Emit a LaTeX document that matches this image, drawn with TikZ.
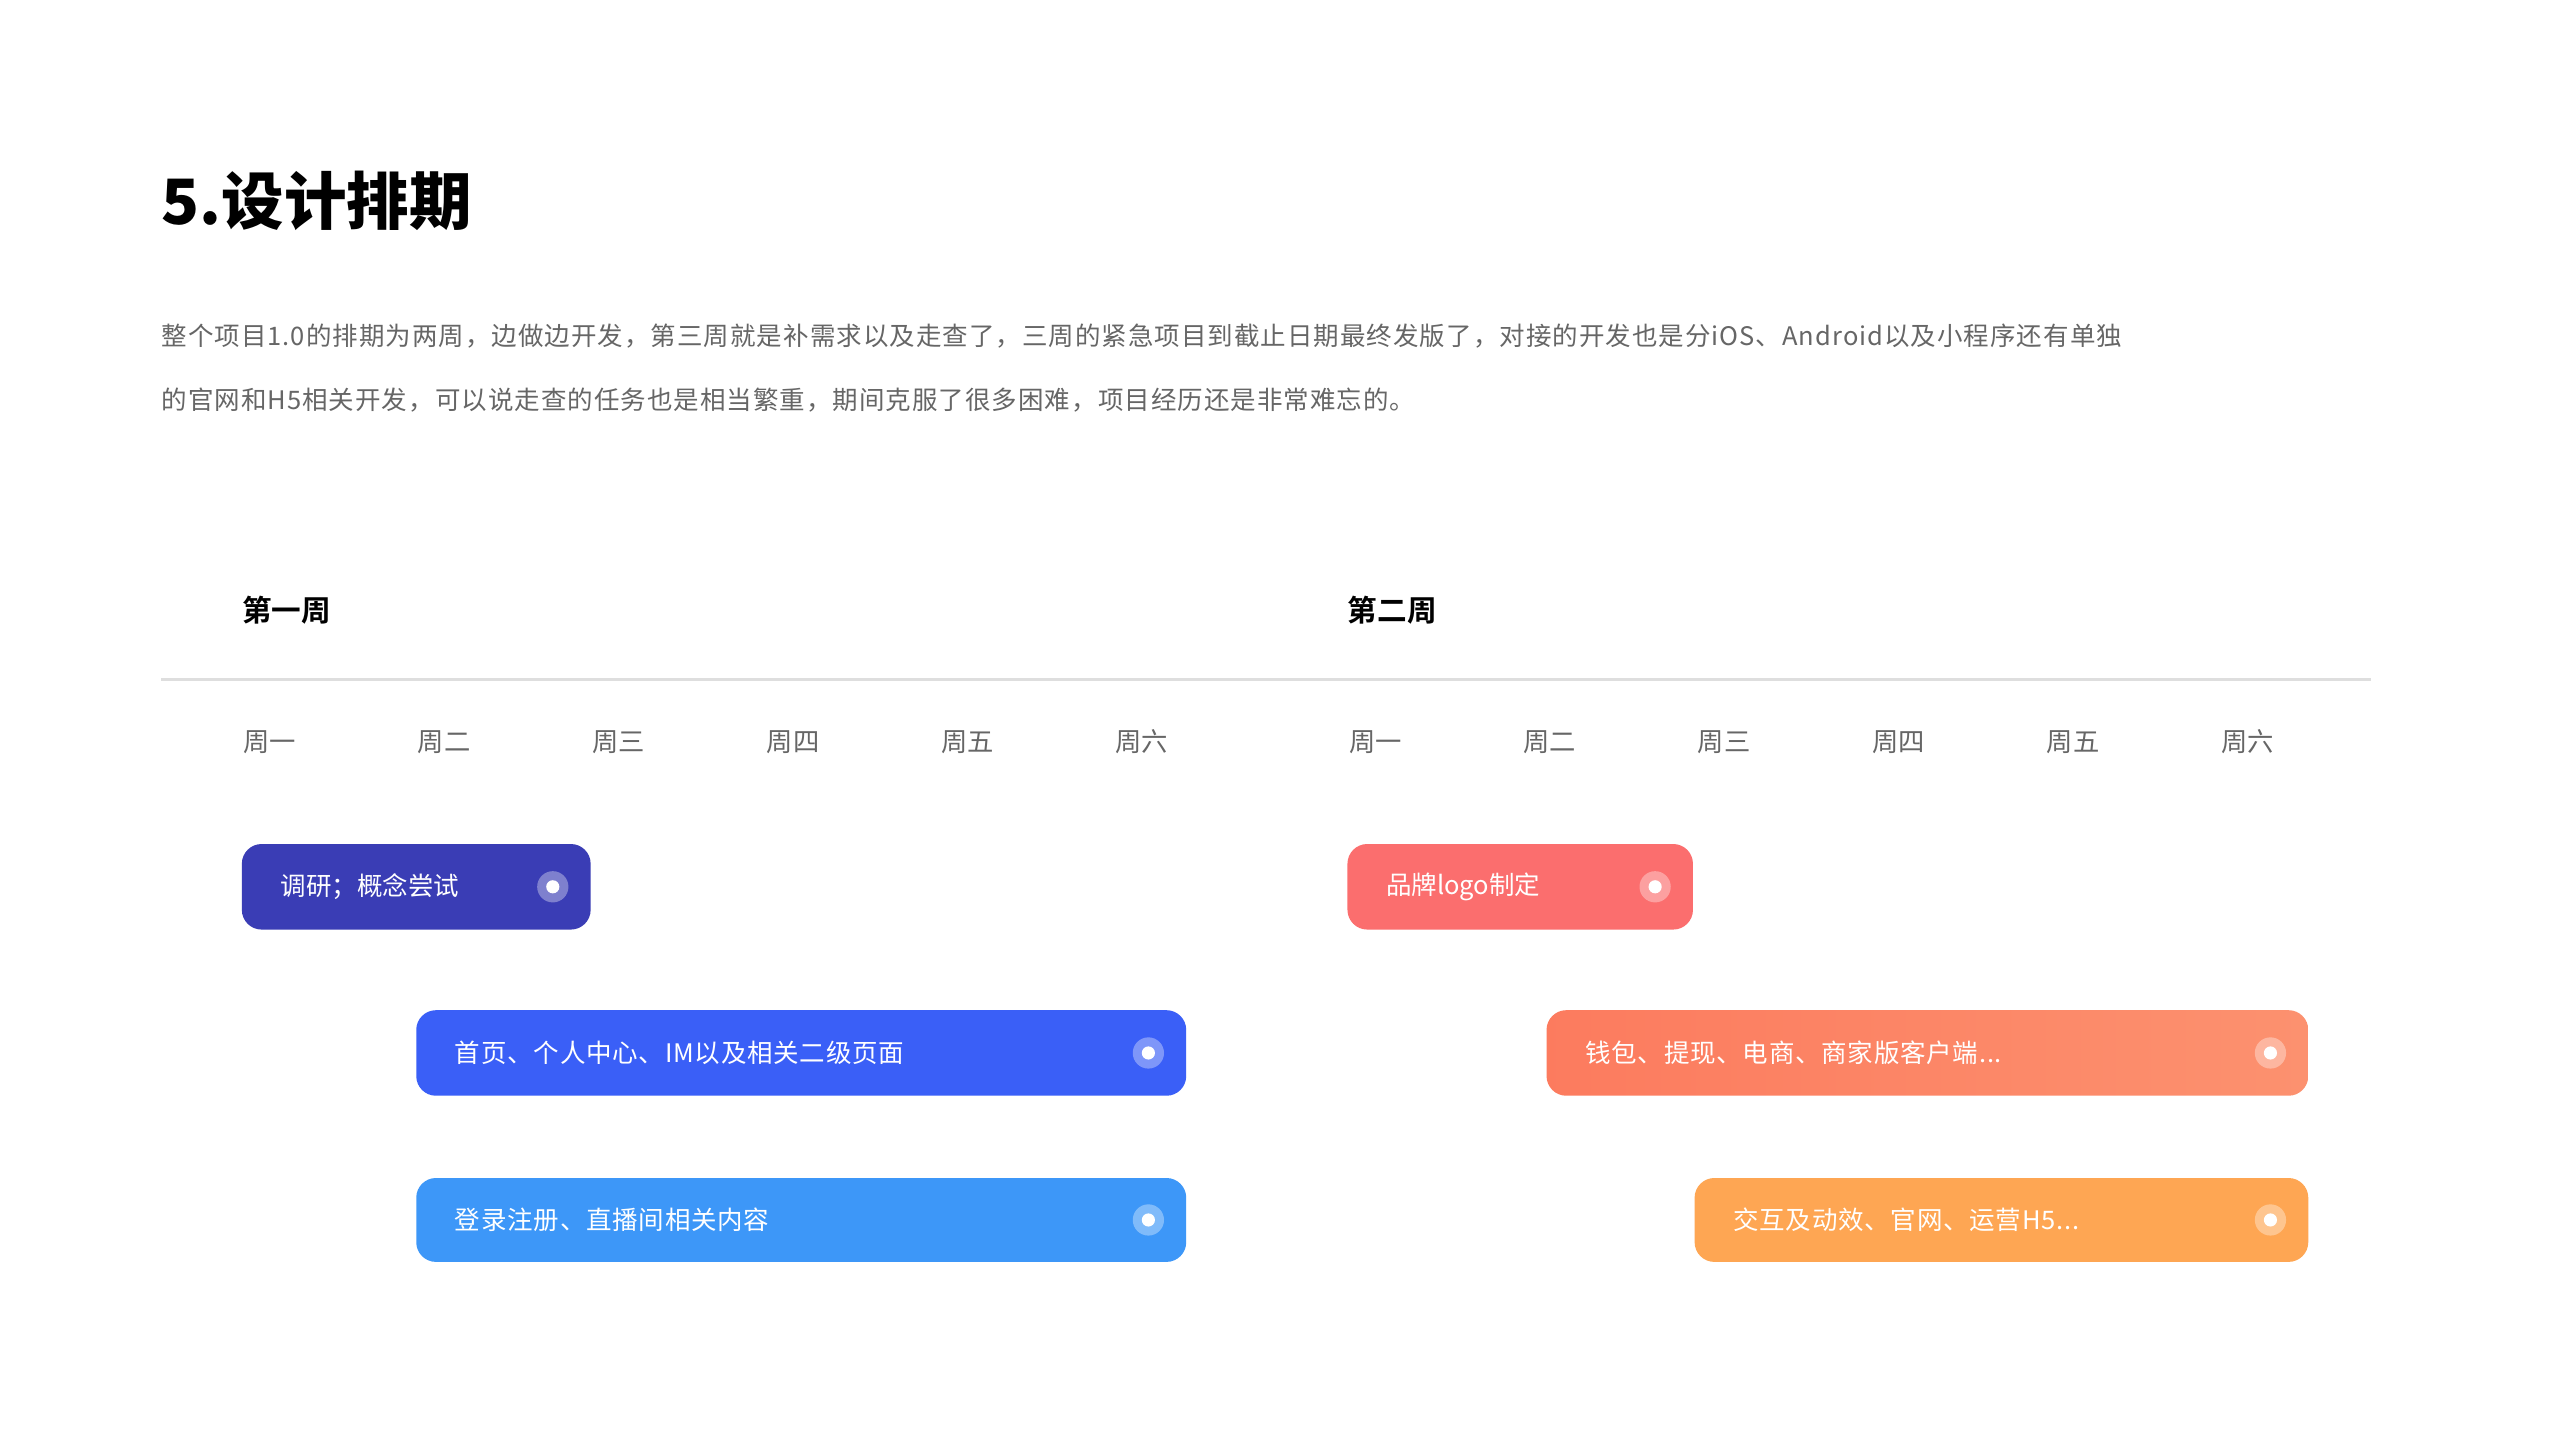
\documentclass[tikz,border=0pt]{standalone}
\usepackage{fontspec}
\setmainfont{Noto Sans CJK SC}
\newfontfamily\cjkb{Noto Sans CJK SC Bold}
\newfontfamily\cjkh{Noto Sans CJK SC Black}
\definecolor{bA}{HTML}{3A3DB5}
\definecolor{bB}{HTML}{3A5FF7}
\definecolor{bC}{HTML}{3D97F8}
\definecolor{bD}{HTML}{FB6E6E}
\definecolor{bE}{HTML}{FC916F}
\definecolor{bF}{HTML}{FEA653}
\definecolor{txt}{HTML}{666666}
\tikzset{
  bar/.style={rounded corners=12pt},
  bartext/.style={anchor=west,text=white,font=\fontsize{15.5}{18}\selectfont},
  day/.style={text=txt,font=\fontsize{16}{18}\selectfont},
  week/.style={anchor=west,font=\cjkb\fontsize{18}{20}\selectfont},
  para/.style={anchor=west,text=txt,font=\fontsize{15.5}{18}\selectfont}
}
\newcommand{\mybar}[6]{% name, x1,y1,x2,y2,color
  \fill[#6,bar] (#2,#3) rectangle (#4,#5);
  \node[bartext] (#1) at (#2+20,{(#3+#5)/2}) {};
  \fill[white,opacity=0.35] (#4-23,{(#3+#5)/2}) circle (9.5);
  \fill[white] (#4-23,{(#3+#5)/2}) circle (4);
}
\begin{document}
\begin{tikzpicture}[x=1pt,y=-1pt]
\useasboundingbox (0,0) rectangle (1556,875);
\fill[white] (0,0) rectangle (1556,875);
\node[anchor=west,inner sep=0,font=\cjkh\fontsize{38}{40}\selectfont] (title) at (98,122) {5.设计排期};
\node[para,inner sep=0] (p1) at (98,204) {\addfontfeatures{LetterSpace=4}整个项目1.0的排期为两周，边做边开发，第三周就是补需求以及走查了，三周的紧急项目到截止日期最终发版了，对接的开发也是分iOS、Android以及小程序还有单独};
\node[para,inner sep=0] (p2) at (98,243) {\addfontfeatures{LetterSpace=4}的官网和H5相关开发，可以说走查的任务也是相当繁重，期间克服了很多困难，项目经历还是非常难忘的。};
\node[week,inner sep=0] (w1) at (147,371) {第一周};
\node[week,inner sep=0] (w2) at (819,371) {第二周};
\draw[line width=1.3pt,draw=black!13] (98,413) -- (1441,413);
\foreach \d [count=\i] in {周一,周二,周三,周四,周五,周六}{
  \node[day] (da\i) at (164+106*\i-106,451) {\d};
  \node[day] (db\i) at (836+106*\i-106,451) {\d};
}
\mybar{t1}{147}{513}{359}{565}{bA}
\node[bartext] at (167,539) {调研；概念尝试};
\mybar{t2}{253}{614}{721}{666}{bB}
\node[bartext] at (273,640) {\addfontfeatures{LetterSpace=3}首页、个人中心、IM以及相关二级页面};
\mybar{t3}{253}{716}{721}{767}{bC}
\node[bartext] at (273,741.5) {\addfontfeatures{LetterSpace=3}登录注册、直播间相关内容};
\mybar{t4}{819}{513}{1029}{565}{bD}
\node[bartext] at (839,539) {品牌logo制定};
\shade[bar,left color=bE!85!red,right color=bE] (940,614) rectangle (1403,666);
\fill[white,opacity=0.35] (1380,640) circle (9.5);
\fill[white] (1380,640) circle (4);
\node[bartext] at (960,640) {\addfontfeatures{LetterSpace=3}钱包、提现、电商、商家版客户端...};
\mybar{t6}{1030}{716}{1403}{767}{bF}
\node[bartext] at (1050,741.5) {\addfontfeatures{LetterSpace=3}交互及动效、官网、运营H5...};
\end{tikzpicture}
\end{document}
